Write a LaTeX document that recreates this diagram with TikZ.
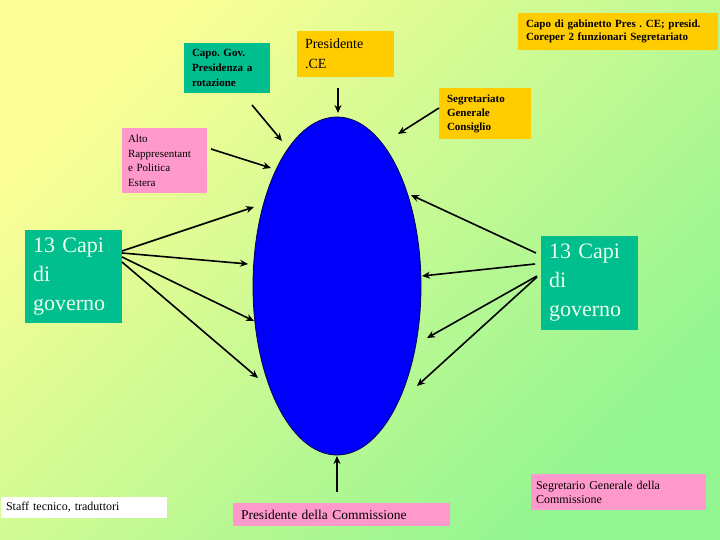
\documentclass[tikz,border=0pt]{standalone}
\usepackage{fontspec}
\setmainfont{Liberation Serif}
\frenchspacing
\usetikzlibrary{shapes.geometric,arrows.meta}
\definecolor{bgY}{RGB}{252,254,150}
\definecolor{bgG}{RGB}{145,245,145}
\definecolor{tealbox}{RGB}{0,190,142}
\definecolor{orangebox}{RGB}{255,204,0}
\definecolor{pinkbox}{RGB}{255,153,204}
\definecolor{ellblue}{RGB}{0,0,250}
\definecolor{capitext}{RGB}{235,255,235}
\tikzset{
  boxbase/.style={rectangle, inner ysep=0pt, align=left},
  tealstyle/.style={boxbase, fill=tealbox},
  orangestyle/.style={boxbase, fill=orangebox},
  pinkstyle/.style={boxbase, fill=pinkbox},
  whitestyle/.style={boxbase, fill=white},
  arr/.style={line width=1.6pt, -{Stealth[length=8pt,width=7pt]}},
}
\begin{document}
\begin{tikzpicture}[x=1pt,y=-1pt]
\useasboundingbox (0,0) rectangle (720,540);
\shade[top color=bgY, bottom color=bgG, shading angle=45] (0,0) rectangle (720,540);

% central ellipse
\node[ellipse, fill=ellblue, draw={rgb,255:red,0;green,0;blue,90}, line width=0.8pt,
      minimum width=168pt, minimum height=338pt, inner sep=0pt] (ell) at (337,286) {};

% boxes
\node[tealstyle, inner xsep=8pt, text width=70pt, minimum height=50pt,
      font={\fontsize{11}{15}\selectfont\bfseries}] (capogov) at (227,68)
      {Capo. Gov.\\Presidenza a\\rotazione};
\node[orangestyle, inner xsep=8pt, text width=81pt, minimum height=46pt,
      font={\fontsize{14}{20}\selectfont}] (presce) at (345.5,54)
      {Presidente\\.CE};
\node[orangestyle, inner xsep=8pt, text width=184pt, minimum height=37pt,
      font={\fontsize{11}{12.5}\selectfont\bfseries}] (capogab) at (618,31.5)
      {Capo di gabinetto Pres . CE; presid.\\Coreper 2 funzionari Segretariato};
\node[orangestyle, inner xsep=8pt, text width=76pt, minimum height=51pt,
      font={\fontsize{11}{14}\selectfont\bfseries}] (segr) at (485,113.5)
      {Segretariato\\Generale\\Consiglio};
\node[pinkstyle, inner xsep=6pt, text width=73pt, minimum height=65pt,
      font={\fontsize{11}{14.5}\selectfont}] (alto) at (164.5,160.5)
      {Alto\\Rappresentant\\e Politica\\Estera};
\node[tealstyle, inner xsep=8pt, text width=81pt, minimum height=93pt, text=capitext,
      font={\fontsize{22}{29}\selectfont}] (capiL) at (73.5,276.5)
      {13 Capi\\di\\governo};
\node[tealstyle, inner xsep=8pt, text width=81pt, minimum height=94pt, text=capitext,
      font={\fontsize{22}{29}\selectfont}] (capiR) at (589.5,283)
      {13 Capi\\di\\governo};
\node[whitestyle, inner xsep=5pt, text width=156pt, minimum height=21pt,
      font={\fontsize{12}{14}\selectfont}] (staff) at (84,507.5)
      {Staff tecnico, traduttori};
\node[pinkstyle, inner xsep=8pt, text width=201pt, minimum height=23pt,
      font={\fontsize{13.5}{16}\selectfont}] (prescomm) at (341.5,514.5)
      {Presidente della Commissione};
\node[pinkstyle, inner xsep=5pt, text width=165pt, minimum height=36pt,
      font={\fontsize{12}{14}\selectfont}] (segrcomm) at (618.5,492)
      {Segretario Generale della\\Commissione};

% connector end points
\coordinate (t1s) at (338,88);   \coordinate (t1e) at (338,113);
\coordinate (t2s) at (252,105);  \coordinate (t2e) at (282,141);
\coordinate (t3s) at (439,108);  \coordinate (t3e) at (398,134);
\coordinate (t4s) at (211,149);  \coordinate (t4e) at (271,168);
\coordinate (l1s) at (122,251);  \coordinate (l1e) at (254,207);
\coordinate (l2s) at (122,253);  \coordinate (l2e) at (248,264);
\coordinate (l3s) at (122,257);  \coordinate (l3e) at (254,321);
\coordinate (l4s) at (122,262);  \coordinate (l4e) at (258,378);
\coordinate (r1s) at (536,253);  \coordinate (r1e) at (411,195);
\coordinate (r2s) at (535,264);  \coordinate (r2e) at (422,276);
\coordinate (r3s) at (537,276);  \coordinate (r3e) at (427,338);
\coordinate (r4s) at (537,277);  \coordinate (r4e) at (417,386);
\coordinate (b1s) at (337,492);  \coordinate (b1e) at (337,456);

\foreach \a in {t1,t2,t3,t4,l1,l2,l3,l4,r1,r2,r3,r4,b1}
  \draw[arr] (\a s) -- (\a e);
\end{tikzpicture}
\end{document}
